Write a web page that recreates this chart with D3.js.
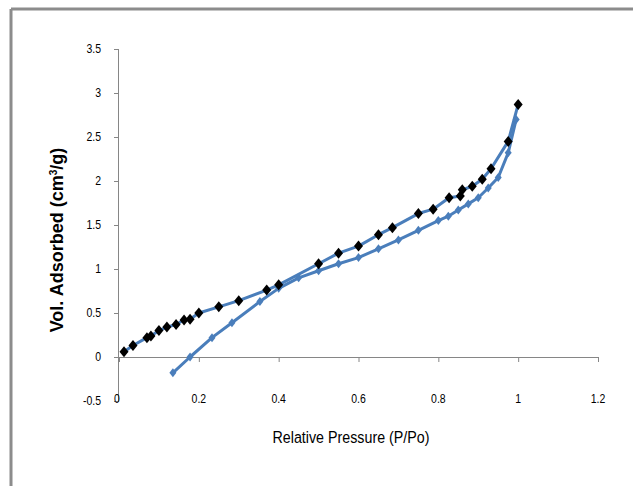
<!DOCTYPE html>
<html>
<head>
<meta charset="utf-8">
<script src="https://cdn.jsdelivr.net/npm/d3@7"></script>
<style>
  body { margin: 0; background: #fff; }
  svg { display: block; font-family: "Liberation Sans", Arial, sans-serif; }
</style>
</head>
<body>
<svg id="chart" width="633" height="486"></svg>
<script>
// Isotherm data
var desorbP = [1.0, 0.975, 0.932, 0.91, 0.885, 0.86, 0.855, 0.827, 0.787, 0.75, 0.685, 0.65, 0.60, 0.55, 0.50,
               0.40, 0.37, 0.30, 0.25, 0.20, 0.178, 0.163, 0.143, 0.12, 0.10, 0.08, 0.07, 0.035, 0.0125];
var desorbV = [2.87, 2.45, 2.14, 2.02, 1.94, 1.90, 1.83, 1.81, 1.68, 1.63, 1.47, 1.39, 1.26, 1.18, 1.06,
               0.82, 0.76, 0.64, 0.57, 0.50, 0.43, 0.42, 0.37, 0.34, 0.30, 0.24, 0.22, 0.13, 0.06];

var adsorbP = [0.135, 0.178, 0.233, 0.283, 0.353, 0.40, 0.45, 0.50, 0.55, 0.60, 0.65, 0.70, 0.75, 0.80,
               0.825, 0.85, 0.875, 0.90, 0.925, 0.95, 0.975, 0.995];
var adsorbV = [-0.18, 0.0, 0.22, 0.39, 0.63, 0.78, 0.90, 0.98, 1.06, 1.13, 1.23, 1.33, 1.44, 1.55,
               1.60, 1.67, 1.74, 1.81, 1.92, 2.04, 2.32, 2.70];

var xTicks = [0, 0.2, 0.4, 0.6, 0.8, 1, 1.2];
var yTicks = [-0.5, 0, 0.5, 1, 1.5, 2, 2.5, 3, 3.5];

var svg = d3.select('#chart');
var lineBlue = '#4a7ebb';
var axisGrey = '#868686';
var squeeze = 0.84;   // mimic the narrow face of the original

// outer chart frame (only top and left edges visible)
svg.append('line').attr('x1', 11).attr('x2', 633).attr('y1', 9).attr('y2', 9)
  .attr('stroke', '#8c8c8c').attr('stroke-width', 3);
svg.append('line').attr('x1', 11).attr('x2', 11).attr('y1', 9).attr('y2', 486)
  .attr('stroke', '#8c8c8c').attr('stroke-width', 3);

var x = d3.scaleLinear().domain([0, 1.2]).range([119, 598]);
var y = d3.scaleLinear().domain([-0.5, 3.5]).range([401, 49]);

// y axis
var yAxis = svg.append('g')
  .attr('transform', 'translate(' + x(0) + ',0)')
  .call(d3.axisLeft(y).tickValues(yTicks).tickSize(5).tickFormat(function() { return ''; }));
yAxis.select('.domain').attr('stroke', axisGrey).attr('d', 'M-0.5,' + y(3.5) + 'V' + y(-0.5));
yAxis.selectAll('.tick line').attr('stroke', axisGrey);

svg.append('g').selectAll('text').data(yTicks).enter().append('text')
  .attr('transform', function(d) { return 'translate(101,' + (y(d) + 4) + ') scale(' + squeeze + ',1)'; })
  .attr('text-anchor', 'end')
  .style('font-size', '12.5px')
  .text(function(d) { return d; });

// x axis at y = 0, labels sitting at the bottom
var xAxis = svg.append('g')
  .attr('transform', 'translate(0,' + y(0) + ')')
  .call(d3.axisBottom(x).tickValues(xTicks).tickSize(5).tickFormat(function() { return ''; }));
xAxis.select('.domain').attr('stroke', axisGrey).attr('d', 'M' + x(0) + ',0.5H' + x(1.2));
xAxis.selectAll('.tick line').attr('stroke', axisGrey);

svg.append('g').selectAll('text').data(xTicks).enter().append('text')
  .attr('transform', function(d) {
    return 'translate(' + (x(d) - (d === 0 ? 2 : 0)) + ',' + (y(-0.5) + 2) + ') scale(' + squeeze + ',1)';
  })
  .attr('text-anchor', 'middle')
  .style('font-size', '12.5px')
  .text(function(d) { return d; });

// axis titles
svg.append('text')
  .attr('transform', 'translate(351,443) scale(' + squeeze + ',1)')
  .attr('text-anchor', 'middle')
  .style('font-size', '17px')
  .text('Relative Pressure (P/Po)');

var yt = svg.append('text')
  .attr('transform', 'translate(63,240) rotate(-90)')
  .attr('text-anchor', 'middle')
  .style('font-size', '18px').style('font-weight', 'bold');
yt.append('tspan').text('Vol. Adsorbed (cm');
yt.append('tspan').attr('dy', -6).style('font-size', '10px').text('3');
yt.append('tspan').attr('dy', 6).text('/g)');

// series
var desorb = desorbP.map(function(p, i) { return [p, desorbV[i]]; });
var adsorb = adsorbP.map(function(p, i) { return [p, adsorbV[i]]; });

var line = d3.line().x(function(d) { return x(d[0]); }).y(function(d) { return y(d[1]); });

function diamond(w, h) {
  return 'M0,' + (-h / 2) + 'L' + (w / 2) + ',0L0,' + (h / 2) + 'L' + (-w / 2) + ',0Z';
}

svg.append('path').datum(adsorb).attr('d', line)
  .attr('fill', 'none').attr('stroke', lineBlue).attr('stroke-width', 3)
  .attr('stroke-linejoin', 'round');
svg.append('path').datum(desorb).attr('d', line)
  .attr('fill', 'none').attr('stroke', lineBlue).attr('stroke-width', 3)
  .attr('stroke-linejoin', 'round');

svg.append('g').selectAll('path').data(adsorb).enter().append('path')
  .attr('transform', function(d) { return 'translate(' + x(d[0]) + ',' + y(d[1]) + ')'; })
  .attr('d', diamond(7, 9))
  .attr('fill', lineBlue);

svg.append('g').selectAll('path').data(desorb).enter().append('path')
  .attr('transform', function(d) { return 'translate(' + x(d[0]) + ',' + y(d[1]) + ')'; })
  .attr('d', diamond(9, 11))
  .attr('fill', '#000');
</script>
</body>
</html>
